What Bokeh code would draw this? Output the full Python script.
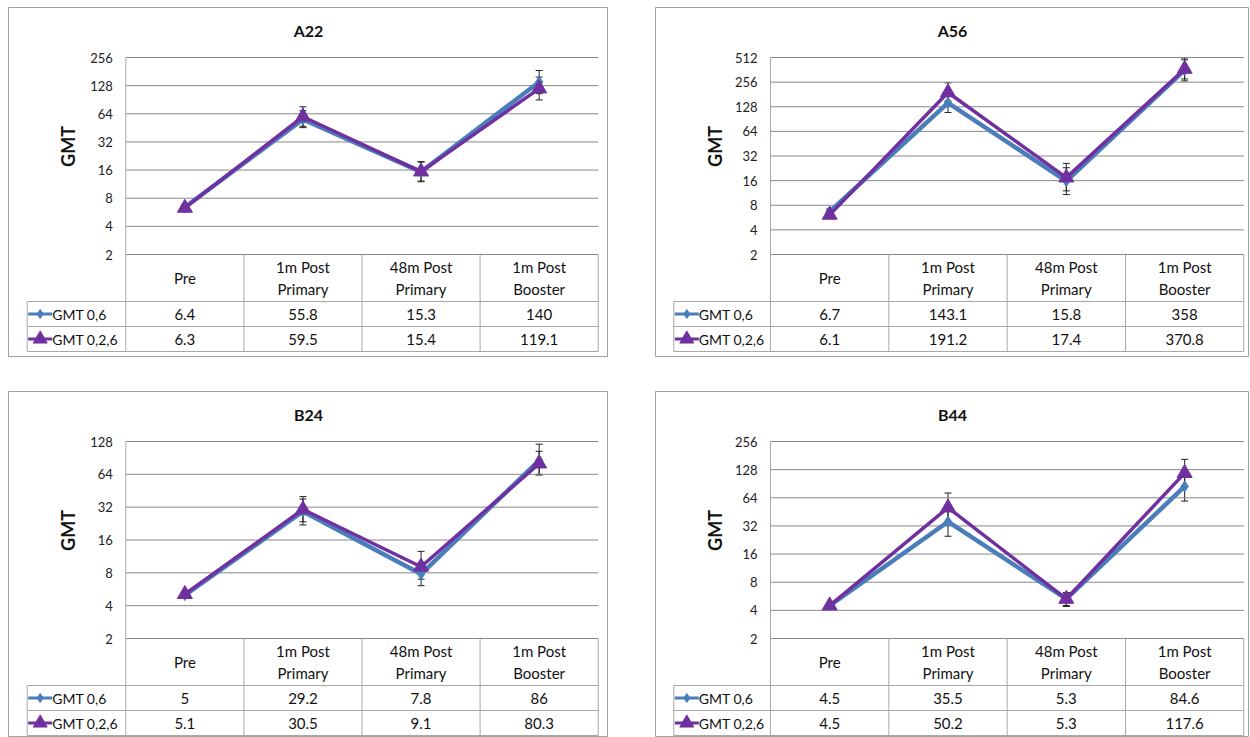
from math import pi, log2
from bokeh.plotting import figure
from bokeh.models import (Range1d, FixedTicker, PrintfTickFormatter, ColumnDataSource,
                          Whisker, TeeHead, Spacer)
from bokeh.layouts import row, column
from bokeh.core.properties import value
from bokeh.embed import file_html
from bokeh.resources import INLINE

# ---------------- data ----------------
categories = ["Pre", "1m Post\nPrimary", "48m Post\nPrimary", "1m Post\nBooster"]
series_names = ["GMT 0,6", "GMT 0,2,6"]
y_ticks = [2, 4, 8, 16, 32, 64, 128, 256, 512]

a22_gmt_06 = [6.4, 55.8, 15.3, 140]
a22_gmt_026 = [6.3, 59.5, 15.4, 119.1]
a22_lo_06 = [5.9, 45.5, 12.0, 105]
a22_hi_06 = [6.9, 69, 19.5, 186]
a22_lo_026 = [5.8, 47, 12.2, 90]
a22_hi_026 = [6.8, 76, 19.7, 158]

a56_gmt_06 = [6.7, 143.1, 15.8, 358]
a56_gmt_026 = [6.1, 191.2, 17.4, 370.8]
a56_lo_06 = [6.2, 109, 10.8, 265]
a56_hi_06 = [7.2, 185, 23, 480]
a56_lo_026 = [5.6, 150, 12, 280]
a56_hi_026 = [6.6, 251, 26, 505]

b24_gmt_06 = [5, 29.2, 7.8, 86]
b24_gmt_026 = [5.1, 30.5, 9.1, 80.3]
b24_lo_06 = [4.7, 22, 6.1, 63]
b24_hi_06 = [5.3, 38, 10, 121]
b24_lo_026 = [4.8, 23.5, 7, 64]
b24_hi_026 = [5.4, 40, 12.6, 104]

b44_gmt_06 = [4.5, 35.5, 5.3, 84.6]
b44_gmt_026 = [4.5, 50.2, 5.3, 117.6]
b44_lo_06 = [4.2, 24.8, 4.4, 59]
b44_hi_06 = [4.8, 50, 6.2, 120]
b44_lo_026 = [4.2, 35, 4.5, 84]
b44_hi_026 = [4.8, 72, 6.1, 165]

# ---------------- layout / style ----------------
TOP_PAD = 50
PLOT_H = 197
HEADER_H = 47
ROW_H = 25
TITLE_Y = 23
GMT_X = 59
GMT_Y = 139

BLUE = "#4A7EBB"
PURPLE = "#7030A0"
GRID = "#888888"
TABLE = "#A8A8A8"
BORDER = "#A0A0A0"
TXT = "#111111"
FONT = value("Lato")


def fmt(v):
    return f"{v:g}"


def make_panel(title, top, v1, v2, lo1, hi1, lo2, hi2, W, H, axis_x, leg_x, col_w):
    n = int(round(log2(top / 2)))
    ppd = PLOT_H / n

    def yd(px):
        return top * 2 ** (-(px - TOP_PAD) / ppd)

    def xd(px):
        return (px - axis_x) / col_w

    p = figure(width=W, height=H, y_axis_type="log", x_axis_location=None, title=None,
               x_range=Range1d(xd(0), xd(W)), y_range=Range1d(yd(H), yd(0)),
               toolbar_location=None, output_backend="svg", min_border=0)
    p.outline_line_color = BORDER
    p.outline_line_width = 1
    p.grid.visible = False
    p.background_fill_color = "white"
    p.border_fill_color = "white"

    ticks = [t for t in y_ticks if t <= top]
    ax = p.yaxis[0]
    ax.ticker = FixedTicker(ticks=ticks)
    ax.formatter = PrintfTickFormatter(format="%d")
    ax.fixed_location = 0
    ax.axis_line_color = None
    ax.major_tick_line_color = None
    ax.minor_tick_line_color = None
    ax.major_tick_out = 0
    ax.major_tick_in = 0
    ax.minor_tick_out = 0
    ax.minor_tick_in = 0
    ax.major_label_standoff = 13
    ax.major_label_text_font = "Lato"
    ax.major_label_text_font_size = "13px"
    ax.major_label_text_color = "#222222"

    nc = len(categories)
    # gridlines
    p.segment(x0=[0] * len(ticks), x1=[nc] * len(ticks), y0=ticks, y1=ticks,
              line_color=GRID, line_width=1)

    # data table
    y2 = yd(TOP_PAD + PLOT_H)
    y_hdr = yd(TOP_PAD + PLOT_H + HEADER_H)
    y_r1 = yd(TOP_PAD + PLOT_H + HEADER_H + ROW_H)
    y_r2 = yd(TOP_PAD + PLOT_H + HEADER_H + 2 * ROW_H)
    xl = xd(leg_x)
    p.segment(x0=[xl] * 3, x1=[nc] * 3, y0=[y_hdr, y_r1, y_r2], y1=[y_hdr, y_r1, y_r2],
              line_color=TABLE, line_width=1)
    p.segment(x0=list(range(1, nc + 1)), x1=list(range(1, nc + 1)),
              y0=[y2] * nc, y1=[y_r2] * nc, line_color=TABLE, line_width=1)
    p.segment(x0=[0, xl], x1=[0, xl], y0=[top, y_hdr], y1=[y_r2, y_r2],
              line_color=TABLE, line_width=1)

    xc = [i + 0.5 for i in range(nc)]
    p.text(x=xc, y=[yd(TOP_PAD + PLOT_H + HEADER_H / 2)] * nc, text=categories,
           text_align="center", text_baseline="middle", text_font=FONT,
           text_font_size="15px", text_line_height=1.18, text_color=TXT)
    row_ys = [yd(TOP_PAD + PLOT_H + HEADER_H + ROW_H / 2),
              yd(TOP_PAD + PLOT_H + HEADER_H + 1.5 * ROW_H)]
    for vals, ry in zip([v1, v2], row_ys):
        p.text(x=xc, y=[ry] * nc, text=[fmt(v) for v in vals], text_align="center",
               text_baseline="middle", text_font=FONT, text_font_size="15px",
               text_color=TXT)

    # legend keys in table
    keys = [(BLUE, "diamond", 9), (PURPLE, "triangle", 14)]
    for (color, marker, ms), name, ry in zip(keys, series_names, row_ys):
        p.segment(x0=[xd(leg_x + 1)], x1=[xd(leg_x + 25)], y0=[ry], y1=[ry],
                  line_color=color, line_width=3)
        p.scatter(x=[xd(leg_x + 13)], y=[ry], marker=marker, size=ms,
                  fill_color=color, line_color=color)
        p.text(x=[xd(leg_x + 25)], y=[ry], text=[name], text_align="left",
               text_baseline="middle", text_font=FONT, text_font_size="14px",
               text_color=TXT)

    # title and axis label
    p.text(x=[xd(W / 2)], y=[yd(TITLE_Y)], text=[title], text_align="center",
           text_baseline="middle", text_font=FONT, text_font_size="16px",
           text_font_style="bold", text_color=TXT)
    p.text(x=[xd(GMT_X)], y=[yd(GMT_Y)], text=["GMT"], angle=pi / 2,
           text_align="center", text_baseline="middle", text_font=FONT,
           text_font_size="18px", text_font_style="bold", text_color=TXT)

    # series
    p.line(x=xc, y=v1, line_color=BLUE, line_width=4.5)
    p.scatter(x=xc, y=v1, marker="diamond", size=11, fill_color=BLUE, line_color=BLUE)
    p.line(x=xc, y=v2, line_color=PURPLE, line_width=3.5)
    p.scatter(x=xc, y=v2, marker="triangle", size=15, fill_color=PURPLE, line_color=PURPLE)

    for lo, hi in [(lo1, hi1), (lo2, hi2)]:
        src = ColumnDataSource(dict(x=xc, lo=lo, hi=hi))
        p.add_layout(Whisker(source=src, base="x", lower="lo", upper="hi",
                             line_color="#222222", line_width=1,
                             upper_head=TeeHead(size=7, line_color="#222222", line_width=1),
                             lower_head=TeeHead(size=7, line_color="#222222", line_width=1)))
    return p


W1, W2 = 600, 594
H_TOP, H_BOT = 350, 346
L_AXIS, L_LEG, L_COL = 117.3, 18.7, (589.7 - 117.3) / 4
R_AXIS, R_LEG, R_COL = 115, 18.3, (588.3 - 115) / 4

p1 = make_panel("A22", 256, a22_gmt_06, a22_gmt_026, a22_lo_06, a22_hi_06,
                a22_lo_026, a22_hi_026, W1, H_TOP, L_AXIS, L_LEG, L_COL)
p2 = make_panel("A56", 512, a56_gmt_06, a56_gmt_026, a56_lo_06, a56_hi_06,
                a56_lo_026, a56_hi_026, W2, H_TOP, R_AXIS, R_LEG, R_COL)
p3 = make_panel("B24", 128, b24_gmt_06, b24_gmt_026, b24_lo_06, b24_hi_06,
                b24_lo_026, b24_hi_026, W1, H_BOT, L_AXIS, L_LEG, L_COL)
p4 = make_panel("B44", 256, b44_gmt_06, b44_gmt_026, b44_lo_06, b44_hi_06,
                b44_lo_026, b44_hi_026, W2, H_BOT, R_AXIS, R_LEG, R_COL)

layout = column(Spacer(height=7),
                row(Spacer(width=8), p1, Spacer(width=47), p2),
                Spacer(height=34),
                row(Spacer(width=8), p3, Spacer(width=47), p4))

open("out.html", "w").write(file_html(layout, INLINE))
